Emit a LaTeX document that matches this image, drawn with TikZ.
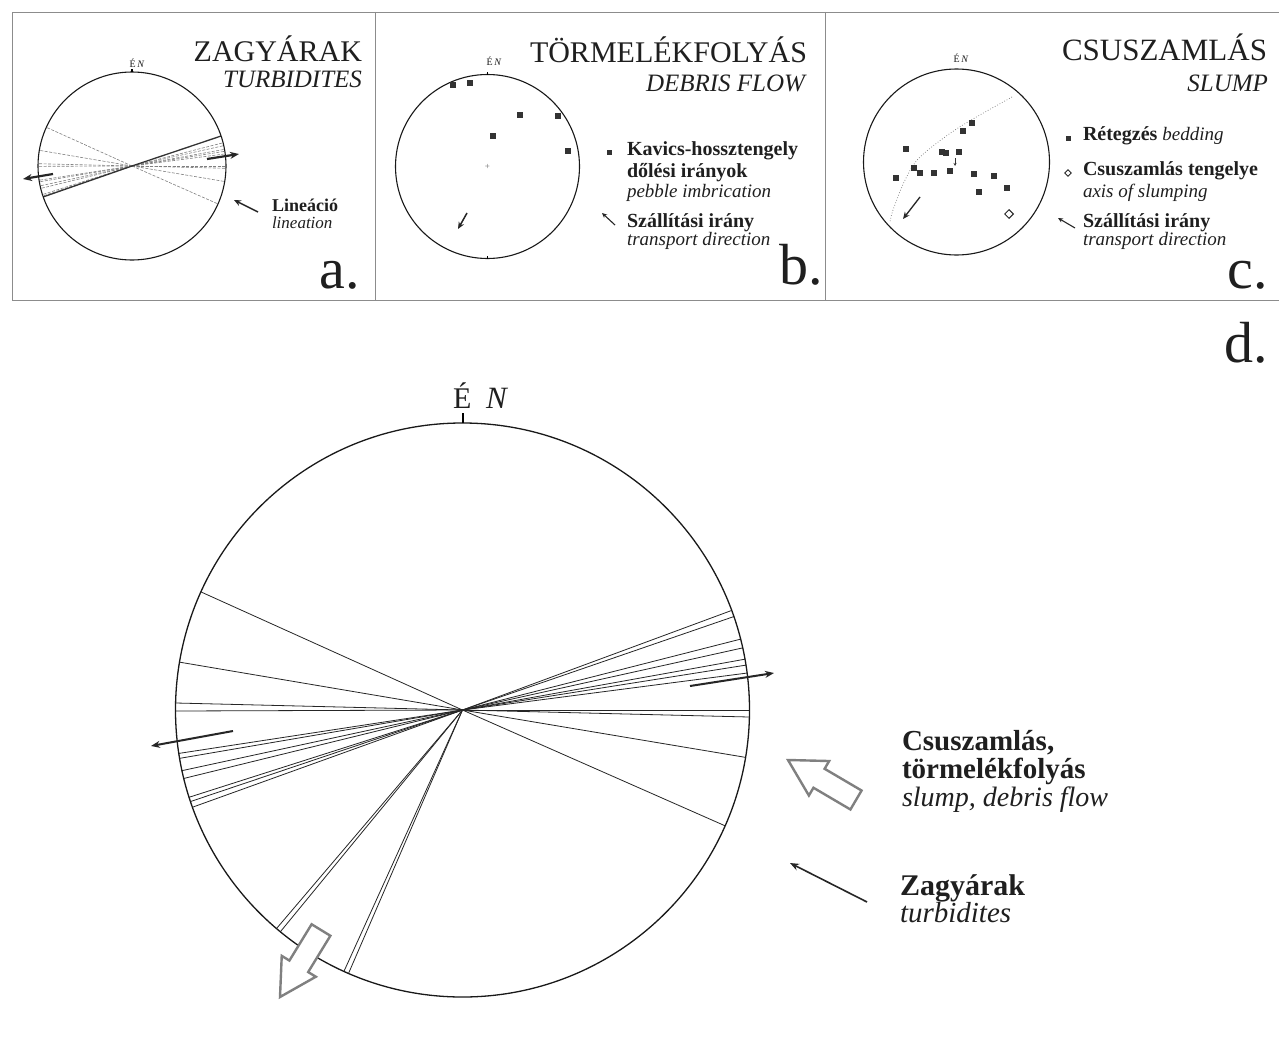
\documentclass[tikz,border=0pt]{standalone}
\usepackage{fontspec}
\setmainfont{Liberation Serif}
\usetikzlibrary{calc,arrows.meta,shapes.geometric}
\newcommand{\hollowarr}[2]{%
  \coordinate (#1h) at ($(#1)!36pt!(#2)$);
  \draw[hollow] (#1) -- ($(#1h)!20pt!90:(#1)$) -- ($(#1h)!11pt!90:(#1)$)
    -- ($(#2)!11pt!90:(#1)$) -- ($(#2)!11pt!-90:(#1)$)
    -- ($(#1h)!11pt!-90:(#1)$) -- ($(#1h)!20pt!-90:(#1)$) -- cycle;}
\begin{document}
\begin{tikzpicture}[x=1pt,y=-1pt,
  frame/.style={draw=black!45, line width=0.7pt},
  plane/.style={draw=black!90, line width=1.1pt},
  dline/.style={draw=black!85, line width=0.8pt},
  aline/.style={draw=black!50, line width=0.6pt, dash pattern=on 3pt off 1.5pt},
  sarrow/.style={draw=black!85, line width=2pt, -{Stealth[length=9pt,width=7pt]}},
  larrow/.style={draw=black!85, line width=1.5pt, -{Stealth[length=7pt,width=6pt]}},
  hollow/.style={draw=black!50, line width=2.4pt, fill=white, line join=miter},
  txt/.style={inner sep=0pt, outer sep=0pt, text=black!88},
  title/.style={txt, anchor=base east, font=\fontsize{30}{30}\selectfont},
  subtitle/.style={txt, anchor=base east, font=\fontsize{25}{25}\selectfont\itshape},
  legb/.style={txt, anchor=base west, font=\fontsize{20}{20}\selectfont\bfseries},
  legi/.style={txt, anchor=base west, font=\fontsize{19}{19}\selectfont\itshape},
  panellbl/.style={txt, anchor=base east, font=\fontsize{58}{58}\selectfont},
  smallN/.style={txt, anchor=base, font=\fontsize{10}{10}\selectfont},
  sq/.style={rectangle, fill=black!80, minimum size=6.5pt, inner sep=0pt},
]
\fill[white] (0,0) rectangle (1279,1049);
\useasboundingbox (0,0) rectangle (1279,1049);

% ---------- frame ----------
\coordinate (fTL) at (12,12);
\coordinate (fTR) at (1279,12);
\coordinate (fBL) at (12,300);
\coordinate (fBR) at (1279,300);
\coordinate (fS1t) at (375,12);
\coordinate (fS1b) at (375,300);
\coordinate (fS2t) at (825,12);
\coordinate (fS2b) at (825,300);
\draw[frame] (fBL) -- (fTL) -- (fTR);
\draw[frame] (fBL) -- (fBR);
\draw[frame] (fS1t) -- (fS1b);
\draw[frame] (fS2t) -- (fS2b);

% ---------- panel a ----------
\coordinate (aC) at (132,166);
\foreach \s in {-155.7,-170.4,-178.6,179.8,171.3,170.3,167.8,166.2,162.3,161.4,-14.3,-12.5,-10.2,-9,-7.4,0,1.4,9.5,23.8}
  \draw[aline] (aC) -- ++(\s:94);
\draw[black!80, line width=1.3pt] (aC) -- ++(-18.6:94);
\draw[black!80, line width=1.3pt] (aC) -- ++(160.8:94);
\draw[plane] (aC) circle[radius=94];
\draw[black, line width=1.2pt] (132,72) -- (132,69);
\coordinate (aL1) at (53,174); \coordinate (aL2) at (23,179);
\coordinate (aR1) at (207,159); \coordinate (aR2) at (239,154);
\draw[sarrow, line width=2.2pt] (aL1) -- (aL2);
\draw[sarrow, line width=2.2pt] (aR1) -- (aR2);
\node[smallN] (aN) at (137,67) {É\,\textit{N}};
\node[title] (aT) at (362,62) {ZAGYÁRAK};
\node[subtitle] (aS) at (362,87) {TURBIDITES};
\coordinate (aK1) at (258,212); \coordinate (aK2) at (234,200);
\draw[larrow] (aK1) -- (aK2);
\node[txt, anchor=base west, font=\fontsize{18}{18}\selectfont\bfseries] (aLb) at (272,211) {Lineáció};
\node[txt, anchor=base west, font=\fontsize{17}{17}\selectfont\itshape] (aLi) at (272,228) {lineation};
\node[panellbl] (aP) at (360,288) {a.};

% ---------- panel b ----------
\coordinate (bC) at (487.5,166.5);
\draw[plane] (bC) circle[radius=92];
\draw[black, line width=1pt] (487.5,74.5) -- (487.5,71.5);
\draw[black, line width=1pt] (487.5,258.5) -- (487.5,255.5);
\node[txt, font=\fontsize{9}{9}\selectfont, text=black!60] (bPlus) at (bC) {+};
\foreach \x/\y [count=\i] in {453/85,470/83,520/115,558/116,493/136,568/151}
  \node[sq] (bq\i) at (\x,\y) {};
\coordinate (bA1) at (467,213); \coordinate (bA2) at (458,229);
\draw[larrow] (bA1) -- (bA2);
\node[smallN] (bN) at (494,66) {É\,\textit{N}};
\node[title] (bT) at (807,63) {TÖRMELÉKFOLYÁS};
\node[subtitle] (bS) at (805,92) {DEBRIS FLOW};
\node[sq, minimum size=5pt] (bLsq) at (609,152) {};
\node[legb] (bL1) at (627,155) {Kavics-hossztengely};
\node[legb] (bL2) at (627,177) {dőlési irányok};
\node[legi] (bL3) at (627,197) {pebble imbrication};
\coordinate (bK1) at (615,225); \coordinate (bK2) at (602,213);
\draw[draw=black!85, line width=1.1pt, -{Stealth[length=5pt,width=4.5pt]}] (bK1) -- (bK2);
\node[legb] (bL4) at (627,227) {Szállítási irány};
\node[legi] (bL5) at (627,245) {transport direction};
\node[panellbl] (bP) at (823,284) {b.};

% ---------- panel c ----------
\coordinate (cC) at (956.5,162);
\draw[plane] (cC) circle[radius=93];
\draw[black!55, line width=0.7pt, dotted] plot[smooth] coordinates {(1012,97) (958,128) (920,157) (905,180) (893,210) (890,222)};
\foreach \x/\y [count=\i] in {972/123,963/131,906/149,942/152,946/153,959/152,914/168,920/173,934/173,950/171,896/178,974/174,994/176,979/192,1007/188}
  \node[sq, minimum size=6pt] (cq\i) at (\x,\y) {};
\coordinate (cT1) at (955,158); \coordinate (cT2) at (955,166);
\draw[draw=black!80, line width=0.6pt, -{Stealth[length=3pt,width=3pt]}] (cT1) -- (cT2);
\node[draw=black!85, line width=1pt, shape=diamond, minimum size=9pt, inner sep=0pt] (cAx) at (1009,214) {};
\coordinate (cA1) at (920,197); \coordinate (cA2) at (903,219);
\draw[larrow, line width=1.3pt] (cA1) -- (cA2);
\node[smallN] (cN) at (961,63) {É\,\textit{N}};
\node[title, font=\fontsize{31}{31}\selectfont] (cT) at (1267,60) {CSUSZAMLÁS};
\node[subtitle] (cS) at (1268,92) {SLUMP};
\node[sq, minimum size=5pt] (cLsq) at (1068,138) {};
\node[legb] (cL1) at (1083,140) {Rétegzés {\mdseries\itshape\fontsize{19}{19}\selectfont bedding}};
\node[draw=black!85, line width=0.9pt, shape=diamond, minimum size=7pt, inner sep=0pt] (cLd) at (1068,173) {};
\node[legb] (cL2) at (1083,175) {Csuszamlás tengelye};
\node[legi] (cL3) at (1083,197) {axis of slumping};
\coordinate (cK1) at (1075,228); \coordinate (cK2) at (1058,218);
\draw[draw=black!85, line width=1.1pt, -{Stealth[length=5pt,width=4.5pt]}] (cK1) -- (cK2);
\node[legb] (cL4) at (1083,227) {Szállítási irány};
\node[legi] (cL5) at (1083,245) {transport direction};
\node[panellbl] (cP) at (1268,288) {c.};

% ---------- panel d ----------
\coordinate (dC) at (462.5,710);
\foreach \s in {-155.7,-170.4,-178.6,179.8,171.3,170.3,167.8,166.2,162.3,161.4,160.2,-20.3,-19,-14.3,-12.5,-10.2,-9,-7.4,0,1.4,9.5,23.8}
  \draw[dline] (dC) -- ++(\s:287);
\foreach \s in {129.4,130.4,113.4,114.4}
  \draw[dline] (dC) -- ++(\s:287);
\draw[plane, line width=1.3pt] (dC) circle[radius=287];
\draw[black, line width=2pt] (462.5,423) -- (462.5,413);
\coordinate (dL1) at (233,731); \coordinate (dL2) at (151,746);
\coordinate (dR1) at (690,686); \coordinate (dR2) at (774,673);
\draw[sarrow] (dL1) -- (dL2);
\draw[sarrow] (dR1) -- (dR2);
\coordinate (dTip) at (280,997); \coordinate (dTail) at (321,930);
\hollowarr{dTip}{dTail}
\node[txt, anchor=base west, font=\fontsize{30}{30}\selectfont] (dE) at (453,408) {É};
\node[txt, anchor=base west, font=\fontsize{31}{31}\selectfont\itshape] (dN) at (486,408) {N};
\node[panellbl] (dP) at (1268,362) {d.};
% legend
\coordinate (gTip) at (788,760); \coordinate (gTail) at (856,800);
\hollowarr{gTip}{gTail}
\node[txt, anchor=base west, font=\fontsize{29}{29}\selectfont\bfseries] (g1) at (902,750) {Csuszamlás,};
\node[txt, anchor=base west, font=\fontsize{29}{29}\selectfont\bfseries] (g2) at (902,778) {törmelékfolyás};
\node[txt, anchor=base west, font=\fontsize{28}{28}\selectfont\itshape] (g3) at (902,806) {slump, debris flow};
\coordinate (gK1) at (867,902); \coordinate (gK2) at (790,863);
\draw[larrow, line width=1.6pt, -{Stealth[length=9pt,width=7pt]}] (gK1) -- (gK2);
\node[txt, anchor=base west, font=\fontsize{30}{30}\selectfont\bfseries] (g4) at (900,895) {Zagyárak};
\node[txt, anchor=base west, font=\fontsize{29}{29}\selectfont\itshape] (g5) at (900,922) {turbidites};
\end{tikzpicture}
\end{document}
